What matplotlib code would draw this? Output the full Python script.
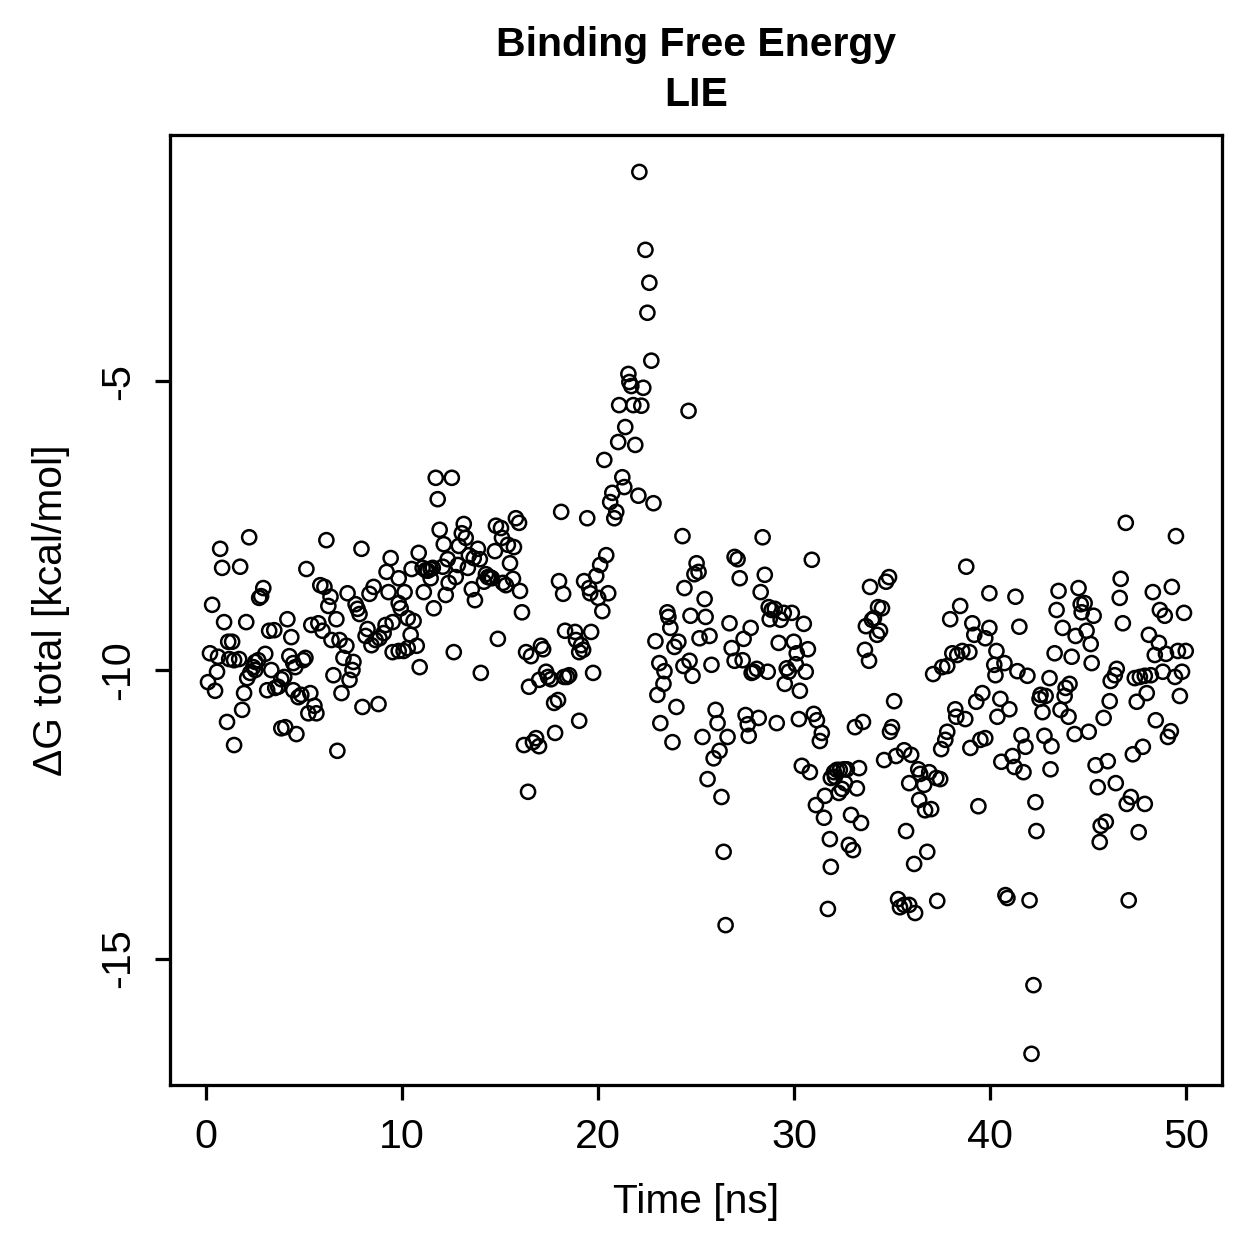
import numpy as np
import matplotlib
matplotlib.use("Agg")
import matplotlib.pyplot as plt

# - LIE binding free energy vs simulation time - #

plt.rcParams['font.family'] = ['Liberation Sans', 'DejaVu Sans']

# (time [ns], dG total [kcal/mol]), grouped by region
seg_0_10 = [
    (2.20, -7.70), (0.72, -7.90), (0.82, -8.23), (1.74, -8.21), (6.14, -7.75), (7.93, -7.90),
    (9.42, -8.06), (5.12, -8.25), (9.21, -8.30), (2.92, -8.58), (2.81, -8.72), (2.71, -8.75),
    (0.31, -8.87), (5.83, -8.53), (6.04, -8.56), (6.35, -8.73), (6.24, -8.89), (7.22, -8.67),
    (7.63, -8.86), (7.73, -8.94), (7.83, -9.03), (8.55, -8.56), (8.34, -8.68), (9.31, -8.65),
    (0.92, -9.17), (2.05, -9.17), (4.15, -9.12), (3.22, -9.32), (3.48, -9.31), (4.35, -9.43),
    (5.37, -9.22), (5.73, -9.19), (5.94, -9.32), (6.65, -9.12), (6.40, -9.48), (6.81, -9.48),
    (7.16, -9.58), (8.24, -9.29), (8.14, -9.41), (8.44, -9.57), (8.65, -9.48), (8.85, -9.45),
    (9.06, -9.36), (9.16, -9.22), (9.52, -9.17), (9.52, -9.69), (1.13, -9.51), (1.33, -9.51),
    (0.20, -9.71), (0.61, -9.77), (1.18, -9.81), (1.43, -9.83), (1.69, -9.81), (3.02, -9.72),
    (2.51, -9.86), (2.66, -9.83), (2.41, -9.95), (2.51, -10.00), (2.25, -10.05), (2.10, -10.14),
    (0.56, -10.03), (0.10, -10.21), (0.46, -10.36), (1.94, -10.40), (1.84, -10.69), (1.07, -10.90),
    (1.43, -11.30), (3.33, -10.00), (4.25, -9.76), (4.45, -9.88), (4.55, -9.95), (4.45, -10.35),
    (4.96, -9.83), (5.07, -9.79), (3.12, -10.35), (3.53, -10.31), (3.68, -10.29), (3.84, -10.16),
    (3.99, -10.12), (4.71, -10.47), (4.86, -10.43), (5.32, -10.40), (5.22, -10.75), (5.63, -10.75),
    (5.53, -10.62), (3.84, -11.01), (4.04, -10.99), (4.61, -11.11), (6.50, -10.09), (7.01, -9.79),
    (7.52, -9.86), (7.47, -10.00), (7.32, -10.17), (6.91, -10.40), (7.98, -10.64), (8.80, -10.59),
    (6.70, -11.40),
]

seg_10_20 = [
    (11.72, -6.67), (12.54, -6.67), (11.82, -7.04), (18.12, -7.26), (19.45, -7.37), (11.92, -7.57),
    (13.15, -7.47), (13.05, -7.63), (13.25, -7.71), (14.79, -7.50), (15.05, -7.54), (15.81, -7.37),
    (15.97, -7.45), (10.85, -7.97), (12.13, -7.82), (12.90, -7.85), (15.10, -7.71), (15.40, -7.83),
    (15.71, -7.87), (14.74, -7.94), (13.87, -7.90), (13.41, -8.01), (13.66, -8.06), (13.97, -8.08),
    (12.33, -8.08), (12.08, -8.21), (12.85, -8.18), (13.36, -8.23), (15.51, -8.15), (10.49, -8.25),
    (11.05, -8.23), (11.21, -8.27), (11.31, -8.28), (11.46, -8.25), (11.57, -8.23), (11.46, -8.41),
    (9.83, -8.41), (10.13, -8.65), (9.83, -8.84), (9.93, -8.93), (10.29, -9.10), (10.59, -9.15),
    (10.44, -9.39), (10.75, -9.58), (9.83, -9.67), (10.08, -9.67), (10.29, -9.62), (10.90, -9.95),
    (11.11, -8.65), (11.62, -8.93), (12.23, -8.70), (12.38, -8.49), (12.74, -8.39), (13.56, -8.60),
    (13.72, -8.79), (14.28, -8.34), (14.38, -8.39), (14.48, -8.39), (14.59, -8.41), (14.18, -8.47),
    (15.15, -8.49), (15.30, -8.53), (15.66, -8.42), (16.02, -8.63), (16.12, -9.00), (12.64, -9.69),
    (14.02, -10.05), (14.89, -9.46), (18.01, -8.46), (18.22, -8.68), (19.29, -8.46), (19.55, -8.58),
    (19.60, -8.67), (18.32, -9.32), (18.83, -9.34), (18.88, -9.48), (19.14, -9.57), (19.24, -9.65),
    (19.04, -9.69), (19.65, -9.34), (19.75, -10.05), (16.33, -9.69), (16.58, -9.76), (17.09, -9.58),
    (17.20, -9.64), (16.48, -10.29), (17.00, -10.17), (17.35, -10.03), (17.45, -10.12), (17.60, -10.16),
    (18.27, -10.12), (18.42, -10.12), (18.53, -10.09), (17.76, -10.57), (17.96, -10.52), (19.04, -10.88),
    (17.81, -11.09), (16.22, -11.30), (16.68, -11.25), (16.84, -11.18), (16.99, -11.32), (16.43, -12.11),
]

seg_peak = [
    (22.11, -1.37), (22.42, -2.72), (22.62, -3.29), (22.52, -3.81), (22.72, -4.64), (21.55, -4.87),
    (21.60, -5.01), (21.70, -5.08), (22.31, -5.11), (21.08, -5.41), (21.80, -5.41), (22.21, -5.42),
    (24.62, -5.51), (21.39, -5.79), (21.03, -6.05), (21.90, -6.10), (20.32, -6.36), (21.24, -6.66),
    (21.34, -6.83), (20.73, -6.93), (20.62, -7.09), (20.93, -7.26), (20.83, -7.37), (22.06, -6.98),
    (22.83, -7.11), (24.31, -7.68), (28.40, -7.70),
]

seg_20_30 = [
    (20.42, -8.01), (20.11, -8.18), (19.91, -8.37), (20.01, -8.75), (20.52, -8.67), (20.22, -8.98),
    (25.03, -8.15), (25.13, -8.30), (24.92, -8.34), (26.97, -8.04), (27.12, -8.08), (27.23, -8.41),
    (28.51, -8.35), (28.30, -8.65), (24.41, -8.58), (25.44, -8.77), (23.54, -9.00), (23.59, -9.08),
    (24.72, -9.06), (25.49, -9.08), (23.69, -9.27), (22.93, -9.50), (24.10, -9.51), (23.90, -9.60),
    (25.18, -9.45), (25.69, -9.41), (26.71, -9.19), (27.79, -9.27), (27.43, -9.46), (26.82, -9.62),
    (26.97, -9.84), (27.38, -9.83), (29.22, -9.53), (28.71, -8.91), (28.86, -8.96), (29.02, -8.94),
    (29.48, -9.01), (28.76, -9.12), (29.32, -9.13), (29.89, -9.01), (23.13, -9.88), (23.39, -10.02),
    (23.34, -10.24), (23.03, -10.43), (24.36, -9.93), (24.67, -9.84), (24.82, -10.10), (25.79, -9.91),
    (27.94, -10.03), (28.10, -9.98), (28.66, -10.03), (27.84, -10.05), (29.63, -9.97), (29.73, -10.03),
    (29.53, -10.24), (24.00, -10.64), (23.18, -10.92), (23.80, -11.25), (26.00, -10.69), (26.10, -10.92),
    (25.33, -11.16), (26.61, -11.16), (26.20, -11.40), (25.90, -11.53), (25.59, -11.89), (26.30, -12.20),
    (26.41, -13.15), (26.51, -14.42), (27.53, -10.78), (28.20, -10.83), (27.64, -10.94), (27.69, -11.14),
    (29.12, -10.92),
]

seg_30_40 = [
    (30.91, -8.09), (33.88, -8.56), (34.70, -8.47), (34.85, -8.39), (34.29, -8.91), (34.49, -8.93),
    (34.08, -9.10), (33.98, -9.13), (33.67, -9.24), (34.24, -9.39), (34.39, -9.32), (33.62, -9.65),
    (33.83, -9.84), (38.79, -8.21), (39.97, -8.67), (38.48, -8.89), (37.97, -9.12), (39.10, -9.19),
    (39.20, -9.39), (39.76, -9.45), (39.97, -9.27), (38.08, -9.71), (38.33, -9.74), (38.59, -9.67),
    (38.95, -9.69), (37.56, -9.95), (37.82, -9.93), (37.10, -10.07), (30.50, -9.20), (29.99, -9.51),
    (30.14, -9.71), (30.71, -9.64), (30.09, -9.90), (30.60, -10.03), (30.30, -10.36), (30.25, -10.85),
    (31.01, -10.76), (31.17, -10.87), (31.42, -11.09), (31.32, -11.23), (30.40, -11.66), (30.81, -11.77),
    (33.11, -10.99), (33.52, -10.90), (35.00, -10.99), (34.90, -11.07), (35.11, -10.54), (32.04, -11.77),
    (32.19, -11.73), (32.34, -11.73), (32.55, -11.72), (32.70, -11.72), (31.88, -11.87), (32.09, -11.85),
    (32.60, -11.96), (32.45, -12.06), (32.29, -12.13), (33.21, -12.05), (33.32, -11.70), (31.58, -12.18),
    (31.12, -12.34), (31.53, -12.56), (32.91, -12.51), (33.42, -12.65), (31.83, -12.93), (32.80, -13.03),
    (33.01, -13.12), (31.88, -13.41), (31.73, -14.14), (34.60, -11.56), (35.21, -11.49), (35.62, -11.39),
    (35.98, -11.47), (36.34, -11.72), (36.44, -11.80), (36.90, -11.77), (36.64, -11.99), (35.88, -11.96),
    (37.26, -11.87), (37.46, -11.89), (36.39, -12.25), (36.69, -12.43), (37.00, -12.41), (35.72, -12.79),
    (36.80, -13.15), (36.13, -13.36), (35.31, -13.97), (35.41, -14.11), (35.62, -14.07), (35.88, -14.07),
    (36.18, -14.21), (37.31, -14.00), (38.23, -10.68), (38.28, -10.81), (38.74, -10.85), (37.82, -11.07),
    (37.72, -11.21), (37.51, -11.37), (39.00, -11.35), (39.51, -11.21), (39.76, -11.18), (39.61, -10.40),
    (39.30, -10.55), (39.41, -12.36), (42.22, -15.46), (42.12, -16.65),
]

seg_40_50 = [
    (46.93, -7.45), (49.49, -7.68), (46.67, -8.42), (46.62, -8.75), (46.78, -9.19), (49.28, -8.56),
    (48.31, -8.65), (48.67, -8.96), (48.92, -9.06), (49.90, -9.01), (44.52, -8.58), (43.50, -8.63),
    (44.63, -8.86), (44.83, -8.84), (44.68, -9.00), (45.29, -9.06), (43.40, -8.96), (41.30, -8.73),
    (41.50, -9.25), (43.71, -9.27), (44.37, -9.41), (44.93, -9.32), (45.14, -9.55), (43.30, -9.71),
    (44.17, -9.77), (45.19, -9.88), (40.33, -9.67), (40.74, -9.88), (40.22, -9.91), (40.28, -10.09),
    (41.40, -10.02), (41.91, -10.10), (43.04, -10.14), (44.06, -10.24), (43.86, -10.31), (43.81, -10.45),
    (42.58, -10.43), (42.53, -10.50), (42.84, -10.45), (42.68, -10.73), (43.60, -10.69), (44.01, -10.81),
    (44.32, -11.11), (45.04, -11.07), (43.14, -11.32), (42.78, -11.14), (43.09, -11.72), (46.47, -9.98),
    (46.37, -10.09), (46.16, -10.19), (46.11, -10.54), (45.80, -10.83), (47.39, -10.14), (47.65, -10.12),
    (47.90, -10.10), (48.21, -10.09), (48.82, -10.03), (49.44, -10.12), (49.80, -10.03), (48.62, -9.53),
    (48.98, -9.72), (48.41, -9.74), (49.59, -9.67), (49.99, -9.67), (48.11, -9.39), (48.00, -10.40),
    (47.49, -10.55), (49.69, -10.45), (48.46, -10.87), (49.23, -11.06), (49.08, -11.16), (47.80, -11.33),
    (47.29, -11.46), (45.39, -11.65), (46.01, -11.58), (45.50, -12.03), (46.42, -11.96), (47.19, -12.20),
    (46.98, -12.32), (47.90, -12.32), (45.91, -12.63), (45.65, -12.70), (45.60, -12.98), (47.59, -12.81),
    (42.32, -12.29), (42.37, -12.79), (41.61, -11.13), (41.81, -11.33), (41.15, -11.49), (40.58, -11.59),
    (41.25, -11.68), (41.71, -11.77), (40.79, -13.90), (40.89, -13.95), (42.02, -13.99), (47.08, -13.99),
    (40.53, -10.50), (40.99, -10.68), (40.38, -10.81),
]

x_ticks = [0, 10, 20, 30, 40, 50]
y_ticks = [-15, -10, -5]

##############################################################################

data = np.array(seg_0_10 + seg_10_20 + seg_peak + seg_20_30 + seg_30_40 + seg_40_50)
data = data[np.argsort(data[:, 0])]
time_ns = data[:, 0]
dg_total = data[:, 1]

W = 1259
fig = plt.figure(figsize=(W / 180, W / 180), dpi=180)
ax = fig.add_axes([170 / W, 1 - 1085 / W, (1222 - 170) / W, (1085 - 135) / W])

ax.scatter(time_ns, dg_total, s=32, facecolors='none', edgecolors='black', linewidths=1.0)

ax.set_xlim(-1.84, 51.84)
ax.set_ylim(-17.19, -0.73)
ax.set_xticks(x_ticks)
ax.set_yticks(y_ticks)
ax.set_yticklabels([str(v) for v in y_ticks], rotation=90, va='center')
ax.tick_params(direction='out', length=6, width=1.3, labelsize=16.5, pad=7)
for sp in ax.spines.values():
    sp.set_linewidth(1.3)

ax.set_xlabel('Time [ns]', fontsize=16.3, labelpad=11)
ax.set_ylabel('ΔG total [kcal/mol]', fontsize=16.3, labelpad=12)

fig.text(0.5528, 1 - 45 / W, 'Binding Free Energy', ha='center', va='center',
         fontsize=16.4, fontweight='bold')
fig.text(0.5528, 1 - 95 / W, 'LIE', ha='center', va='center',
         fontsize=16.4, fontweight='bold')

fig.savefig('out.png', dpi=180)
